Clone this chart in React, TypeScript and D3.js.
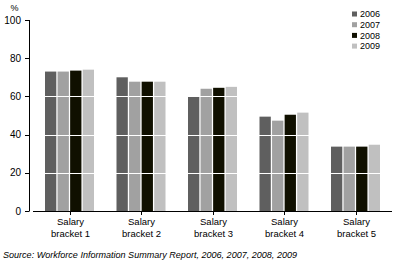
import React from "react";
import * as d3 from "d3";

const categories = ["Salary bracket 1", "Salary bracket 2", "Salary bracket 3", "Salary bracket 4", "Salary bracket 5"];
const years = ["2006", "2007", "2008", "2009"];
const values2006 = [73, 70, 60, 49.4, 33.7];
const values2007 = [73, 67.7, 64, 47.3, 33.7];
const values2008 = [73.5, 67.7, 64.5, 50.4, 33.7];
const values2009 = [74, 67.7, 65, 51.5, 34.7];
const yTicks = [0, 20, 40, 60, 80, 100];
const colors = ["#5f5f5f", "#a1a1a1", "#101000", "#c0c0c0"];
const sourceText = "Source: Workforce Information Summary Report, 2006, 2007, 2008, 2009";

const series = [values2006, values2007, values2008, values2009];

export default function App() {
  const W = 397, H = 265;
  const font = "'Liberation Sans', Arial, sans-serif";
  const y = d3.scaleLinear().domain([0, 100]).range([211, 20]);
  const x = d3.scaleBand().domain(categories).range([33.75, 391.25]).padding(0);
  const inner = d3.scaleBand().domain(years).range([-24.5, 24.5]).paddingInner(0.1);
  const axisX = 29;

  return (
    <svg width={W} height={H} style={{ position: "absolute", left: 0, top: 0, background: "#fff" }}>
      {categories.map((c, ci) => {
        const cx = (x(c) as number) + x.bandwidth() / 2;
        return (
          <g key={c}>
            {years.map((yr, si) => (
              <rect
                key={yr}
                x={cx + (inner(yr) as number)}
                y={y(series[si][ci])}
                width={inner.bandwidth()}
                height={y(0) - y(series[si][ci])}
                fill={colors[si]}
              />
            ))}
          </g>
        );
      })}
      {yTicks.filter((t) => t > 0 && t < 100).map((t) => (
        <line key={"g" + t} x1={axisX + 1} x2={392} y1={Math.round(y(t)) + 0.5} y2={Math.round(y(t)) + 0.5} stroke="#fff" strokeWidth={1} />
      ))}
      {/* y axis */}
      <line x1={axisX + 0.5} x2={axisX + 0.5} y1={y(100)} y2={y(0)} stroke="#000" strokeWidth={1} />
      {yTicks.map((t) => (
        <g key={"t" + t}>
          <line x1={axisX - 4} x2={axisX + 0.5} y1={Math.round(y(t)) + 0.5} y2={Math.round(y(t)) + 0.5} stroke="#000" />
          <text x={21} y={y(t)} dy="0.35em" textAnchor="end" fontFamily={font} fontSize={10} fill="#000">
            {t}
          </text>
        </g>
      ))}
      <text x={14.5} y={8} dy="0.35em" textAnchor="middle" fontFamily={font} fontSize={9} fill="#000">%</text>
      {/* x axis */}
      <line x1={33} x2={392} y1={Math.round(y(0)) + 0.5} y2={Math.round(y(0)) + 0.5} stroke="#000" strokeWidth={1} />
      {categories.map((c) => {
        const cx = Math.round((x(c) as number) + x.bandwidth() / 2) + 0.5;
        const parts = c.split(" ");
        return (
          <g key={"x" + c}>
            <line x1={cx} x2={cx} y1={y(0)} y2={y(0) + 4} stroke="#000" />
            <text x={cx} y={225} textAnchor="middle" fontFamily={font} fontSize={9.5} fill="#000">{parts[0]}</text>
            <text x={cx} y={236.5} textAnchor="middle" fontFamily={font} fontSize={9.5} fill="#000">{parts.slice(1).join(" ")}</text>
          </g>
        );
      })}
      {/* legend */}
      {years.map((yr, i) => (
        <g key={"l" + yr} transform={`translate(352, ${14 + i * 10.7})`}>
          <rect x={0} y={-2.5} width={5} height={5} fill={colors[i]} />
          <text x={8} y={0} dy="0.35em" fontFamily={font} fontSize={9} fill="#000">{yr}</text>
        </g>
      ))}
      <text x={3} y={258} fontFamily={font} fontSize={9} fontStyle="italic" fill="#000" textLength={294} lengthAdjust="spacingAndGlyphs">
        {sourceText}
      </text>
    </svg>
  );
}
